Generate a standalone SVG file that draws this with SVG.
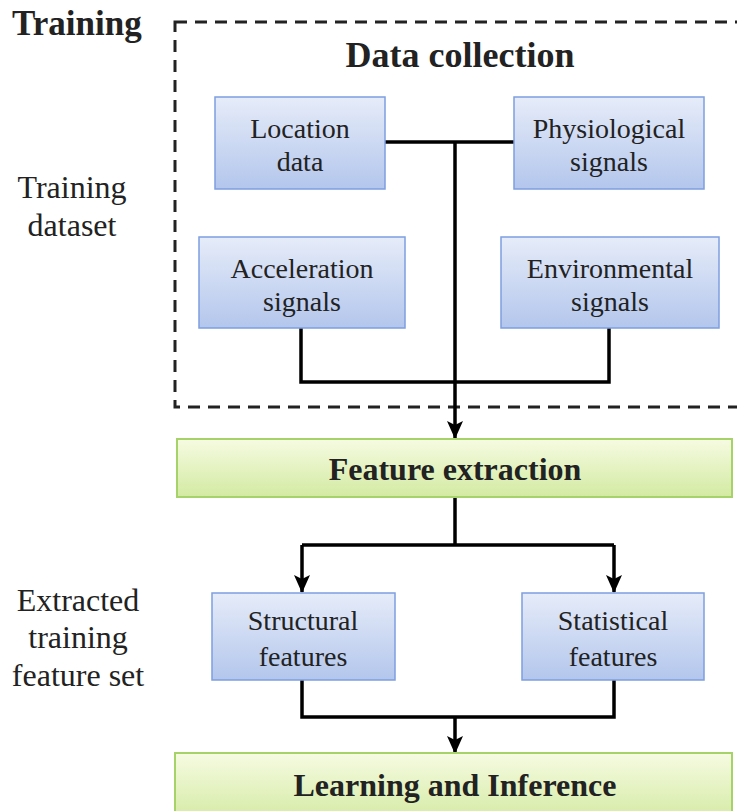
<svg xmlns="http://www.w3.org/2000/svg" width="737" height="811" viewBox="0 0 737 811">
<style>
.t{font-family:"Liberation Serif","Times New Roman",serif;fill:#222;text-anchor:middle}
.n{font-size:28px}
.s{font-size:32px}
.b{font-weight:bold}
.blue{fill:url(#gb);stroke:#7d9fe0;stroke-width:1.5}
.green{fill:url(#gg);stroke:#a5d36a;stroke-width:2}
.c{fill:none;stroke:#000;stroke-width:3.5}
</style>
<defs>
<linearGradient id="gb" x1="0" y1="0" x2="0" y2="1"><stop offset="0" stop-color="#e6ecf9"/><stop offset="1" stop-color="#b3c6ec"/></linearGradient>
<linearGradient id="gg" x1="0" y1="0" x2="0" y2="1"><stop offset="0" stop-color="#f6fbe2"/><stop offset="1" stop-color="#d3eaa2"/></linearGradient>
<marker id="ah" markerWidth="18" markerHeight="16" refX="17" refY="8" orient="auto" markerUnits="userSpaceOnUse" viewBox="0 0 18 16"><path d="M0,0 L18,8 L0,16 L4,8 z" fill="#000"/></marker>
</defs>
<g id="labels">
<text class="t b" x="12" y="35" style="text-anchor:start;font-size:35px">Training</text>
<text class="t s" x="72" y="198">Training</text>
<text class="t s" x="72" y="236">dataset</text>
<text class="t s" x="78" y="611">Extracted</text>
<text class="t s" x="78" y="648">training</text>
<text class="t s" x="78" y="686">feature set</text>
</g>
<g id="training-group">
<rect x="175" y="22" width="580" height="385" fill="none" stroke="#222" stroke-width="3" stroke-dasharray="12,8"/>
<text class="t b" x="460" y="67" font-size="36">Data collection</text>
</g>
<g id="connectors">
<path class="c" d="M385,142 H514"/>
<path class="c" d="M455,142 V438" marker-end="url(#ah)"/>
<path class="c" d="M301,328 V382 H609 V328"/>
<path class="c" d="M455,498 V545"/>
<path class="c" d="M302,545 H614"/>
<path class="c" d="M302,545 V592" marker-end="url(#ah)"/>
<path class="c" d="M614,545 V592" marker-end="url(#ah)"/>
<path class="c" d="M302,680 V717 H614 V680"/>
<path class="c" d="M455,717 V753" marker-end="url(#ah)"/>
</g>
<g id="location">
<rect class="blue" x="215" y="97" width="170" height="92"/>
<text class="t n" x="300" y="138">Location</text>
<text class="t n" x="300" y="171">data</text>
</g>
<g id="physiological">
<rect class="blue" x="514" y="97" width="190" height="92"/>
<text class="t n" x="609" y="138">Physiological</text>
<text class="t n" x="609" y="171">signals</text>
</g>
<g id="acceleration">
<rect class="blue" x="199" y="237" width="206" height="91"/>
<text class="t n" x="302" y="278">Acceleration</text>
<text class="t n" x="302" y="311">signals</text>
</g>
<g id="environmental">
<rect class="blue" x="501" y="237" width="218" height="91"/>
<text class="t n" x="610" y="278">Environmental</text>
<text class="t n" x="610" y="311">signals</text>
</g>
<g id="feature-extraction">
<rect class="green" x="177" y="439" width="555" height="58"/>
<text class="t b" x="455" y="480" font-size="32">Feature extraction</text>
</g>
<g id="structural">
<rect class="blue" x="212" y="593" width="183" height="87"/>
<text class="t n" x="303" y="630">Structural</text>
<text class="t n" x="303" y="666">features</text>
</g>
<g id="statistical">
<rect class="blue" x="522" y="593" width="182" height="87"/>
<text class="t n" x="613" y="630">Statistical</text>
<text class="t n" x="613" y="666">features</text>
</g>
<g id="learning">
<rect class="green" x="175" y="753" width="557" height="70"/>
<text class="t b" x="455" y="796" font-size="32">Learning and Inference</text>
</g>
</svg>
